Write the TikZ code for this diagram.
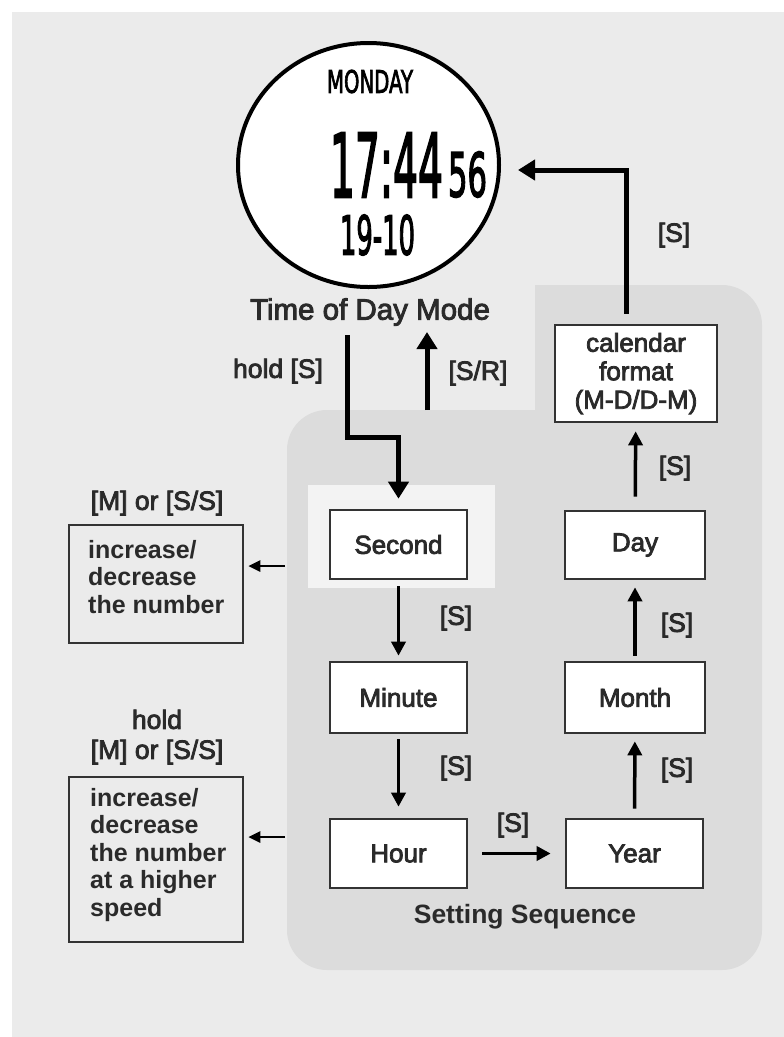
\documentclass[tikz,border=0pt]{standalone}
\usepackage{fontspec}
\usepackage{graphicx}
\setmainfont{Liberation Sans}
\newfontfamily\medf[FakeBold=3]{Liberation Sans}
\newfontfamily\lcdf[FakeBold=3]{DejaVu Sans}
\usetikzlibrary{arrows.meta,shapes.geometric}
\definecolor{bgA}{HTML}{EBEBEB}
\definecolor{bgB}{HTML}{DCDCDC}
\definecolor{hlc}{HTML}{F3F3F3}
\definecolor{boxc}{HTML}{333333}
\definecolor{txt}{HTML}{2A2A2A}
\begin{document}
\begin{tikzpicture}[x=1pt,y=-1pt,
  sbox/.style={draw=boxc, line width=2.6pt, fill=white, minimum width=137pt, minimum height=69pt, inner sep=0pt, text=txt, font=\medf\fontsize{26}{28.5}\selectfont},
  lbox/.style={draw=boxc, line width=2.6pt, minimum width=174pt, inner sep=0pt},
  ltxt/.style={inner sep=0pt, align=left, text=txt, font=\bfseries\fontsize{25}{27.5}\selectfont},
  lbl/.style={inner sep=0pt, text=txt, font=\medf\fontsize{26.5}{30}\selectfont},
  lcd/.style={inner sep=0pt, text=black},
  thk/.style={draw=black, line width=5pt, -{Triangle[width=20pt,length=17pt]}},
  thn/.style={draw=black, line width=3.5pt, -{Triangle[width=14pt,length=14pt]}},
  thl/.style={draw=black, line width=2.6pt, -{Triangle[width=11pt,length=12pt]}}
]
\useasboundingbox (0,0) rectangle (784,1037);
% backgrounds
\fill[white] (0,0) rectangle (784,1037);
\fill[bgA] (12,12) rectangle (784,1037);
\fill[bgB] (535,285) -- (722,285) arc[start angle=-90,end angle=0,radius=40]
  -- (762,930) arc[start angle=0,end angle=90,radius=40]
  -- (327,970) arc[start angle=90,end angle=180,radius=40]
  -- (287,450) arc[start angle=180,end angle=270,radius=40]
  -- (535,410) -- cycle;
\fill[hlc] (308,485) rectangle (495,588);

% watch
\node[draw=black, line width=4pt, fill=white, ellipse, minimum width=261pt, minimum height=244pt, inner sep=0pt] (watch) at (368.5,165) {};
\node[lcd] (wday) at (370,81.5) {\resizebox{86pt}{23pt}{\lcdf MONDAY}};
\node[lcd] (wtime) at (386.5,165) {\resizebox{113pt}{64pt}{\lcdf 17:44}};
\node[lcd] (wsec) at (467.5,174.5) {\resizebox{39pt}{45pt}{\lcdf 56}};
\node[lcd] (wdate) at (377.5,235) {\resizebox{75pt}{40pt}{\lcdf 19-10}};
\node[lbl, font=\medf\fontsize{29.5}{32}\selectfont] (tod) at (370,312) {Time of Day Mode};

% setting boxes
\node[sbox] (second) at (398.5,544.5) {Second};
\node[sbox, minimum height=71pt] (minute) at (398.5,697.5) {Minute};
\node[sbox] (hour) at (398.5,853.5) {Hour};
\node[sbox] (year) at (634.5,853.5) {Year};
\node[sbox, minimum width=140pt, minimum height=71pt] (month) at (635,697.5) {Month};
\node[sbox, minimum width=140pt, minimum height=68pt] (day) at (635,545) {Day};
\node[sbox, minimum width=162pt, minimum height=97pt, align=center] (cal) at (636,373.5) {calendar\\format\\(M-D/D-M)};
\node[inner sep=0pt, text=txt, font=\bfseries\fontsize{26.5}{30}\selectfont] (seq) at (525,917) {Setting Sequence};

% left boxes
\node[lbox, minimum height=118pt] (box1) at (156,584) {};
\node[ltxt, anchor=north west] (t1) at (88,540) {increase/\\decrease\\the number};
\node[lbox, minimum height=165pt] (box2) at (156,859.5) {};
\node[ltxt, anchor=north west] (t2) at (90,788) {increase/\\decrease\\the number\\at a higher\\speed};
\node[lbl] (l1) at (157,503) {[M] or [S/S]};
\node[lbl, align=center] (l2) at (157,737) {hold\\{}[M] or [S/S]};

% thick arrows
\coordinate (h1) at (347,335);
\coordinate (h2) at (347,437);
\coordinate (h3) at (398.5,437);
\draw[thk, shorten >=10pt] (h1) -- (h2) -- (h3) -- (second.north);
\coordinate (r1) at (427,410);
\coordinate (r2) at (427,332);
\draw[thk] (r1) -- (r2);
\coordinate (tc) at (626,170);
\draw[thk, shorten <=10pt, shorten >=17pt] (tc |- cal.north) -- (tc) -- (tc -| watch.east);

% thin arrows
\draw[thn, shorten <=6pt, shorten >=5pt] (second) -- (minute);
\draw[thn, shorten <=5pt, shorten >=11pt] (minute) -- (hour);
\draw[thn, shorten <=14pt, shorten >=14pt] (hour) -- (year);
\draw[thn, shorten <=9pt, shorten >=7pt] (year) -- (month);
\draw[thn, shorten <=5pt, shorten >=7pt] (month) -- (day);
\draw[thn, shorten <=13pt, shorten >=8pt] (day) -- (cal);
\coordinate (a1) at (285,566);
\coordinate (a2) at (285,837);
\draw[thl, shorten >=4pt] (a1) -- (a1 -| box1.east);
\draw[thl, shorten >=4pt] (a2) -- (a2 -| box2.east);

% labels
\node[lbl] (hs) at (278,371) {hold [S]};
\node[lbl] (sr) at (478,373) {[S/R]};
\node[lbl] (s7) at (674,235) {[S]};
\node[lbl] (s6) at (675,468) {[S]};
\node[lbl] (s5) at (677,625) {[S]};
\node[lbl] (s4) at (677,770) {[S]};
\node[lbl] (s1) at (456,618) {[S]};
\node[lbl] (s2) at (456,768) {[S]};
\node[lbl] (s3) at (513,825) {[S]};
\end{tikzpicture}
\end{document}
